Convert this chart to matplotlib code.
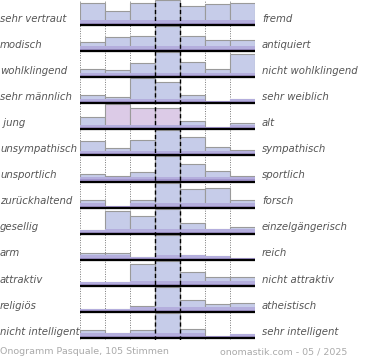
import numpy as np
import matplotlib
matplotlib.use("Agg")
import matplotlib.pyplot as plt

left_labels = ["sehr vertraut", "modisch", "wohlklingend", "sehr männlich", " jung",
               "unsympathisch", "unsportlich", "zurückhaltend", "gesellig", "arm",
               "attraktiv", "religiös", "nicht intelligent"]
right_labels = ["fremd", "antiquiert", "nicht wohlklingend", "sehr weiblich", "alt",
                "sympathisch", "sportlich", "forsch", "einzelgängerisch", "reich",
                "nicht attraktiv", "atheistisch", "sehr intelligent"]

# estimated votes per answer column (7-step scale), one list per row
votes = [
    [16, 10, 16, 18, 14, 15, 16],
    [9, 15, 16, 26, 16, 12, 12],
    [9, 7, 15, 26, 16, 9, 24],
    [11, 9, 35, 30, 11, 3, 6],
    [13, 27, 23, 23, 9, 3, 7],
    [16, 8, 17, 28, 21, 9, 6],
    [10, 7, 12, 32, 23, 14, 7],
    [9, 2, 9, 30, 22, 23, 9],
    [4, 26, 20, 29, 12, 5, 8],
    [14, 14, 5, 52, 9, 7, 4],
    [5, 5, 26, 30, 17, 10, 10],
    [5, 4, 9, 41, 19, 13, 14],
    [14, 8, 14, 43, 16, 3, 6],
]
# bars drawn in the pink tone: (row, column)
pink_bars = [(4, 1), (4, 2), (4, 3)]

footer_left = "Onogramm Pasquale, 105 Stimmen"
footer_right = "onomastik.com - 05 / 2025"

W, H = 370, 360
fig = plt.figure(figsize=(W / 100, H / 100), dpi=100)
ax = fig.add_axes([80 / W, 1 - 340 / H, 175 / W, 340 / H])
ax.set_xlim(0, 7)
ax.set_ylim(-0.077, 12.96)
ax.axis("off")

n_rows = len(votes)
x = np.arange(7)
for i, row in enumerate(votes):
    base = n_rows - 1 - i
    v = np.array(row, dtype=float)
    h = v / v.max() * 0.96
    cols = ["#dccbe7" if (i, j) in pink_bars else "#c6cce9" for j in range(7)]
    ax.bar(x, h, width=1.0, bottom=base, align="edge", color=cols,
           edgecolor="#9a9a9a", linewidth=0.8, zorder=2)
    # purple shading at the foot of the bars
    low = np.minimum(h, 0.18)
    ax.bar(x, low, width=1.0, bottom=base, align="edge", color="#b4aedd",
           linewidth=0, zorder=3)
    low2 = np.minimum(h, 0.08)
    ax.bar(x, low2, width=1.0, bottom=base, align="edge", color="#a194cc",
           linewidth=0, zorder=3)
    ax.plot([0, 7], [base, base], color="black", linewidth=1.6, zorder=5,
            solid_capstyle="butt")

    ax.text(-3.2, base + 0.24, left_labels[i], ha="left", va="center",
            fontsize=7.3, style="italic", color="#555555", clip_on=False)
    ax.text(7.28, base + 0.24, right_labels[i], ha="left", va="center",
            fontsize=7.3, style="italic", color="#555555", clip_on=False)

for xv in [0, 1, 2, 5, 6, 7]:
    ax.axvline(xv, color="#777777", linewidth=0.7, linestyle=(0, (1, 1.5)), zorder=1)
for xv in [3, 4]:
    ax.axvline(xv, color="black", linewidth=1.0, linestyle=(0, (3, 2)), zorder=6)

fig.text(0.0, 1 - 352 / H, footer_left, ha="left", va="center",
         fontsize=6.8, color="#aaaaaa")
fig.text(347 / W, 1 - 352 / H, footer_right, ha="right", va="center",
         fontsize=6.8, color="#aaaaaa")

fig.savefig("out.png", dpi=100, facecolor="white")
